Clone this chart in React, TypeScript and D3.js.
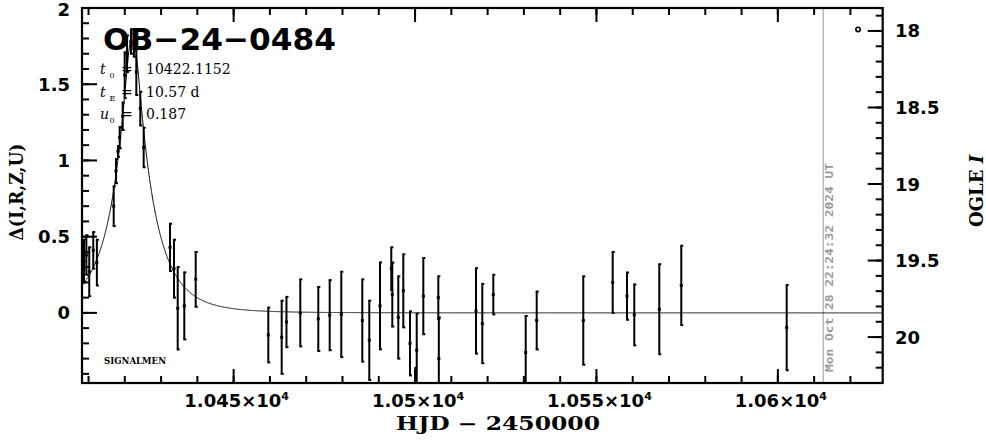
import React from "react";
import * as d3 from "d3";

// ---- data ----
const eventName = "OB\u221224\u22120484";
const t0 = 10422.1152;
const tE = 10.57;
const u0 = 0.187;

// HJD-2450000, delta mag, error
const hjd = [
  10408.75, 10409.4, 10410.2, 10411.3, 10412.3,
  10416.94, 10417.57, 10418.12, 10418.59, 10419.42, 10419.97, 10420.6, 10421.7, 10422.5,
  10423.17, 10424.27, 10425.2,
  10432.46, 10433.56, 10434.58, 10436.4, 10439.54,
  10459.55, 10463.24, 10464.56, 10468.37, 10473.33, 10476.47, 10479.67, 10485.46, 10487.39,
  10490.34, 10493.45, 10493.73, 10495.38, 10496.76, 10498.6, 10500.12, 10500.46, 10502.28,
  10506.41, 10506.55, 10516.8, 10518.54, 10521.57, 10530.5, 10533.53, 10546.37, 10554.48,
  10558.42, 10560.43, 10567.32, 10573.38, 10602.44,
];
const delta = [
  0.34, 0.38, 0.27, 0.41, 0.33,
  0.7, 0.93, 1.06, 1.15, 1.29, 1.56, 1.7, 1.78, 1.76,
  1.58, 1.34, 1.085,
  0.43, 0.29, 0.03, 0.046, 0.22,
  -0.145, -0.16, -0.06, 0.0, -0.04, -0.015, -0.01, -0.05, -0.18,
  0.046, 0.29, 0.12, -0.03, 0.145, -0.2, -0.62, -0.245, 0.11,
  0.1, -0.3, 0.013, -0.07, 0.12, -0.26, -0.05, -0.05, 0.2,
  0.11, -0.013, 0.024, 0.18, -0.097,
];
const errs = [
  0.14, 0.13, 0.16, 0.12, 0.15,
  0.13, 0.08, 0.035, 0.07, 0.09, 0.15, 0.12, 0.08, 0.08,
  0.15, 0.11, 0.13,
  0.155, 0.19, 0.27, 0.22, 0.18,
  0.18, 0.24, 0.165, 0.22, 0.21, 0.23, 0.28, 0.27, 0.26,
  0.285, 0.14, 0.21, 0.27, 0.24, 0.21, 0.26, 0.24, 0.25,
  0.14, 0.27, 0.28, 0.26, 0.13, 0.24, 0.19, 0.29, 0.2,
  0.155, 0.2, 0.295, 0.26, 0.28,
];

const baselineMarkT = [10622.1];
const baselineMarkI = [17.99];

const nowHJD = 10612.5;
const nowLabel = "Mon Oct 28 22:24:32 2024 UT";

const leftTicks = [0, 0.5, 1, 1.5, 2];
const leftTickLabels = ["0", "0.5", "1", "1.5", "2"];
const rightTicks = [18, 18.5, 19, 19.5, 20];
const rightTickLabels = ["18", "18.5", "19", "19.5", "20"];
const xTicks = [10450, 10500, 10550, 10600];
const xTickMantissa = ["1.045", "1.05", "1.055", "1.06"];

const paramLines = [
  { sym: "t", sub: "0", val: "10422.1152" },
  { sym: "t", sub: "E", val: "10.57 d" },
  { sym: "u", sub: "0", val: "0.187" },
];

// ---- layout ----
const W = 986;
const H = 440;
const L = 82;
const R = 882.7;
const T = 8;
const B = 383;

export default function App() {
  const x = d3.scaleLinear().domain([10408.2, 10628.9]).range([L, R]);
  const y = d3.scaleLinear().domain([-0.46, 2.0]).range([B, T]);
  const yR = d3.scaleLinear().domain([17.85, 20.3]).range([T, B]);

  const model: [number, number][] = [];
  const [d0, d1] = x.domain();
  for (let t = d0; t <= d1 + 1e-9; t += 0.05) {
    const tau = (t - t0) / tE;
    const u = Math.sqrt(tau * tau + u0 * u0);
    const A = (u * u + 2) / (u * Math.sqrt(u * u + 4));
    model.push([t, 2.5 * Math.log10(A)]);
  }
  const line = d3
    .line<[number, number]>()
    .x((d) => x(d[0]))
    .y((d) => y(d[1]));

  const minorLeft = d3.range(-4, 20).map((i) => i / 10);
  const minorRight = d3.range(179, 203).map((i) => i / 10);
  const minorX = d3.range(10410, 10629, 10);

  const labelFont = "'DejaVu Sans', sans-serif";
  const serif = "'DejaVu Serif', serif";

  return (
    <svg width={W} height={H} style={{ position: "absolute", left: 0, top: 0, background: "#fff" }}>
      <defs>
        <clipPath id="plotclip">
          <rect x={L} y={T} width={R - L} height={B - T} />
        </clipPath>
      </defs>

      {/* now line */}
      <line x1={x(nowHJD)} x2={x(nowHJD)} y1={T} y2={B} stroke="#999" strokeWidth={1} />
      <text
        transform={`translate(${x(nowHJD) + 10},${B - 11}) rotate(-90)`}
        fontFamily={"'DejaVu Sans Mono', monospace"}
        fontWeight="bold"
        fontSize={10.5}
        fill="#999"
        textLength={209}
        lengthAdjust="spacingAndGlyphs"
      >
        {nowLabel}
      </text>

      <g clipPath="url(#plotclip)">
        <path d={line(model) || ""} fill="none" stroke="#000" strokeWidth={1} />
        {hjd.map((t, i) => {
          const cx = x(t);
          const y1 = y(delta[i] + errs[i]);
          const y2 = y(delta[i] - errs[i]);
          const cy = y(delta[i]);
          return (
            <g key={i} stroke="#000" strokeWidth={2}>
              <line x1={cx} x2={cx} y1={y1} y2={y2} />
              <line x1={cx - 1} x2={cx + 2} y1={y1} y2={y1} />
              <line x1={cx - 1} x2={cx + 2} y1={y2} y2={y2} />
              <rect x={cx - 1.5} y={cy - 1.5} width={3} height={3} fill="#000" stroke="none" />
            </g>
          );
        })}
        {baselineMarkT.map((t, i) => (
          <circle key={i} cx={x(t)} cy={yR(baselineMarkI[i])} r={2.2} fill="none" stroke="#000" strokeWidth={1.6} />
        ))}
      </g>

      {/* frame */}
      <rect x={L} y={T} width={R - L} height={B - T} fill="none" stroke="#000" strokeWidth={2.2} />

      {/* left axis ticks */}
      {minorLeft.map((v) => (
        <line key={"ml" + v} x1={L} x2={L + 7} y1={y(v)} y2={y(v)} stroke="#000" strokeWidth={2} />
      ))}
      {leftTicks.map((v, i) => (
        <g key={"lt" + v}>
          <line x1={L} x2={L + 15} y1={y(v)} y2={y(v)} stroke="#000" strokeWidth={2} />
          <text
            x={70}
            y={Math.max(y(v) + 6.5, 16)}
            textAnchor="end"
            fontFamily={labelFont}
            fontWeight="bold"
            fontSize={18}
          >
            {leftTickLabels[i]}
          </text>
        </g>
      ))}

      {/* right axis ticks */}
      {minorRight.map((v) => (
        <line key={"mr" + v} x1={R - 7} x2={R} y1={yR(v)} y2={yR(v)} stroke="#000" strokeWidth={2} />
      ))}
      {rightTicks.map((v, i) => (
        <g key={"rt" + v}>
          <line x1={R - 15} x2={R} y1={yR(v)} y2={yR(v)} stroke="#000" strokeWidth={2} />
          <text x={895} y={yR(v) + 6.5} textAnchor="start" fontFamily={labelFont} fontWeight="bold" fontSize={18}>
            {rightTickLabels[i]}
          </text>
        </g>
      ))}

      {/* x ticks top and bottom */}
      {minorX.map((v) => (
        <g key={"mx" + v} stroke="#000" strokeWidth={2}>
          <line x1={x(v)} x2={x(v)} y1={B} y2={B - 7} />
          <line x1={x(v)} x2={x(v)} y1={T} y2={T + 7} />
        </g>
      ))}
      {xTicks.map((v, i) => (
        <g key={"xt" + v}>
          <line x1={x(v)} x2={x(v)} y1={B} y2={B - 14} stroke="#000" strokeWidth={2} />
          <line x1={x(v)} x2={x(v)} y1={T} y2={T + 14} stroke="#000" strokeWidth={2} />
          <text x={x(v) + 3} y={407} textAnchor="middle" fontFamily={labelFont} fontWeight="bold" fontSize={18}>
            {xTickMantissa[i]}
            {"\u00d710"}
            <tspan dy={-7} fontSize={11}>
              4
            </tspan>
          </text>
        </g>
      ))}

      {/* axis titles */}
      <text
        x={498}
        y={430}
        textAnchor="middle"
        fontFamily={serif}
        fontWeight="bold"
        fontSize={18}
        textLength={204}
        lengthAdjust="spacingAndGlyphs"
      >
        {"HJD \u2212 2450000"}
      </text>
      <text
        transform="translate(23,192) rotate(-90)"
        textAnchor="middle"
        fontFamily={serif}
        fontWeight="bold"
        fontSize={18}
        textLength={97}
        lengthAdjust="spacingAndGlyphs"
      >
        {"\u0394(I,R,Z,U)"}
      </text>
      <text
        transform="translate(983,191) rotate(-90)"
        textAnchor="middle"
        fontFamily={serif}
        fontWeight="bold"
        fontSize={18}
      >
        {"OGLE "}
        <tspan fontStyle="italic">I</tspan>
      </text>

      {/* title */}
      <text
        x={103}
        y={50}
        fontFamily={labelFont}
        fontWeight="bold"
        fontSize={31}
        textLength={233}
        lengthAdjust="spacingAndGlyphs"
      >
        {eventName}
      </text>

      {/* params */}
      {paramLines.map((p, i) => {
        const by = 74 + i * 22.5;
        return (
          <g key={"p" + i} fontFamily={serif} fontSize={14}>
            <text x={100} y={by} fontStyle="italic">
              {p.sym}
            </text>
            <text x={109.5} y={by + 4} fontSize={8}>
              {p.sub}
            </text>
            <text x={121} y={by}>
              =
            </text>
            <text x={146} y={by}>
              {p.val}
            </text>
          </g>
        );
      })}

      <text
        x={104}
        y={364}
        fontFamily={serif}
        fontWeight="bold"
        fontSize={9}
        textLength={62}
        lengthAdjust="spacingAndGlyphs"
      >
        SIGNALMEN
      </text>
    </svg>
  );
}
